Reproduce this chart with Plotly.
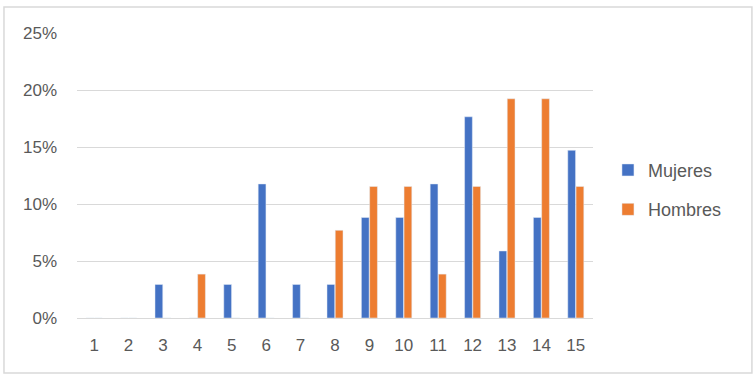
import plotly.graph_objects as go

categories = [str(i) for i in range(1, 16)]
mujeres = [0, 0, 0.0294, 0, 0.0294, 0.1176, 0.0294, 0.0294, 0.0882, 0.0882, 0.1176, 0.1765, 0.0588, 0.0882, 0.1471]
hombres = [0, 0, 0, 0.0385, 0, 0, 0, 0.0769, 0.1154, 0.1154, 0.0385, 0.1154, 0.1923, 0.1923, 0.1154]
y_ticks = [0, 0.05, 0.10, 0.15, 0.20, 0.25]
y_tick_labels = ["0%", "5%", "10%", "15%", "20%", "25%"]

font_family = "Liberation Sans, Arial, sans-serif"
text_color = "#595959"

fig = go.Figure()
fig.add_trace(go.Bar(x=categories, y=mujeres, name="Mujeres", marker_color="#4472C4",
                     legendgroup="a"))
fig.add_trace(go.Bar(x=categories, y=hombres, name="Hombres", marker_color="#ED7D31",
                     legendgroup="b"))

fig.update_layout(
    width=756, height=378,
    margin=dict(l=77, r=163, t=33, b=60),
    paper_bgcolor="white", plot_bgcolor="white",
    barmode="group", bargap=0.52, bargroupgap=0.06,
    font=dict(family=font_family, size=17, color=text_color),
    showlegend=True,
    legend=dict(x=1.029, y=0.45, xanchor="left", yanchor="middle",
                traceorder="grouped", tracegroupgap=13,
                font=dict(size=18, color=text_color), itemwidth=30),
    xaxis=dict(type="category", showgrid=False, zeroline=False, showline=False,
               ticks="", ticklabelstandoff=15, tickfont=dict(size=17, color=text_color)),
    yaxis=dict(range=[0, 0.25], tickvals=y_ticks, ticktext=y_tick_labels,
               showgrid=True, gridcolor="#d9d9d9", gridwidth=1,
               zeroline=True, zerolinecolor="#d9d9d9", zerolinewidth=1,
               showline=False, ticks="", ticklabelstandoff=19,
               tickfont=dict(size=17, color=text_color)),
    shapes=[dict(type="rect", xref="paper", yref="paper",
                 x0=-0.1415, x1=1.308, y0=-0.193, y1=1.0912,
                 line=dict(color="#d9d9d9", width=1.5), fillcolor="rgba(0,0,0,0)",
                 layer="below")],
)

fig.write_html("out.html", config={"displayModeBar": False},
               post_script="document.body.style.margin='0';")
